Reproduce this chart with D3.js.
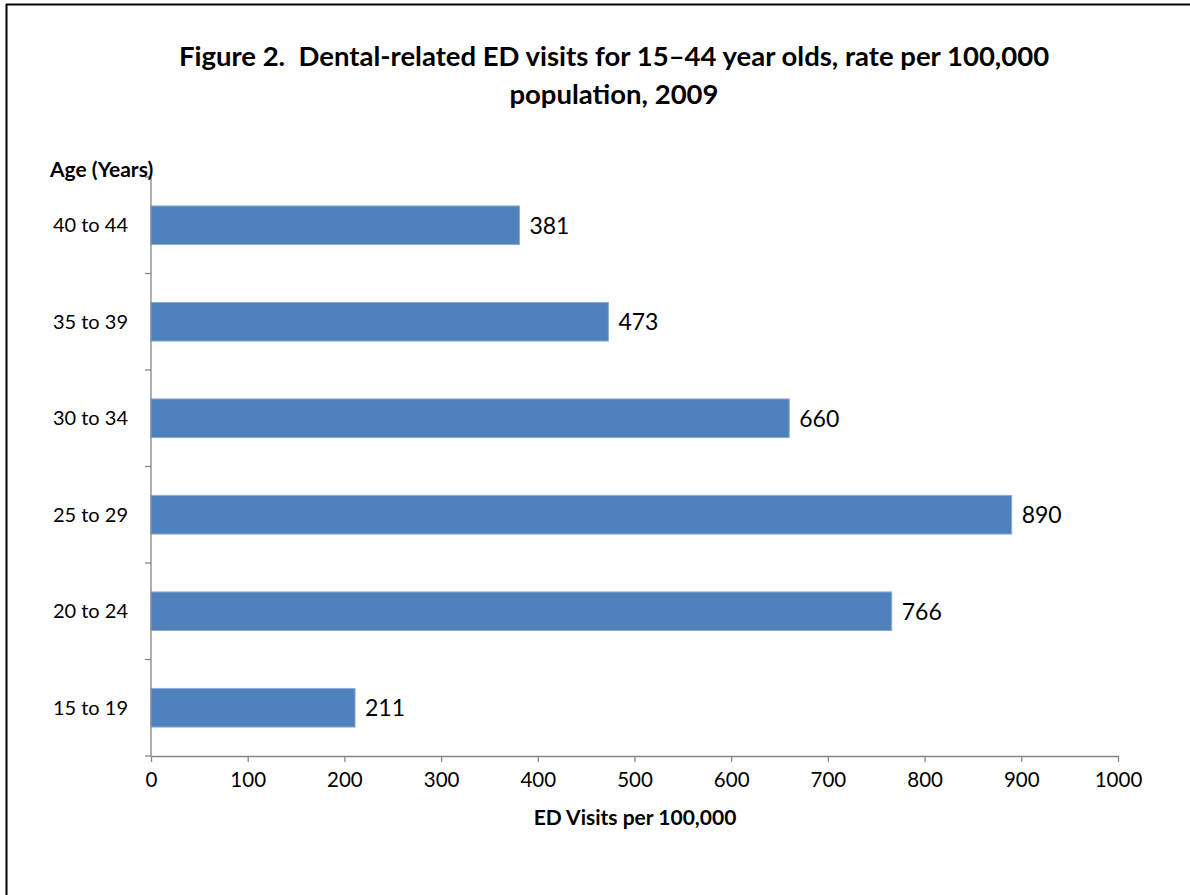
<!DOCTYPE html>
<html>
<head>
<meta charset="utf-8">
<script src="https://cdn.jsdelivr.net/npm/d3@7"></script>
<style>
  html, body { margin: 0; padding: 0; background: #fff; }
  svg { display: block; }
  text { font-family: Lato, "Open Sans", sans-serif; fill: #000; white-space: pre; }
</style>
</head>
<body>
<svg id="chart" width="1190" height="895"></svg>
<script>
const categories = ["40 to 44", "35 to 39", "30 to 34", "25 to 29", "20 to 24", "15 to 19"];
const values = [381, 473, 660, 890, 766, 211];
const xTicks = [0, 100, 200, 300, 400, 500, 600, 700, 800, 900, 1000];
const titleLines = ["Figure 2.  Dental-related ED visits for 15\u201344 year olds, rate per 100,000", "population, 2009"];
const yAxisTitle = "Age (Years)";
const xAxisTitle = "ED Visits per 100,000";

(function () {
const svg = d3.select("#chart");
const data = categories.map((c, i) => ({ cat: c, val: values[i] }));

svg.append("line").attr("x1", 6).attr("y1", 4.5).attr("x2", 1190).attr("y2", 4.5)
  .attr("stroke", "#000").attr("stroke-width", 2);
svg.append("line").attr("x1", 6.5).attr("y1", 4).attr("x2", 6.5).attr("y2", 895)
  .attr("stroke", "#000").attr("stroke-width", 2);

const pLeft = 151, pRight = 1118, pTop = 177, pBottom = 756;
const x = d3.scaleLinear().domain([0, 1000]).range([pLeft, pRight]);
const y = d3.scaleBand().domain(categories).range([pTop, pBottom]).paddingInner(0.6).paddingOuter(0.3);

svg.append("text").attr("x", 614).attr("y", 66).attr("text-anchor", "middle")
  .attr("font-weight", "bold").attr("font-size", 27.5).text(titleLines[0]);
svg.append("text").attr("x", 614).attr("y", 104).attr("text-anchor", "middle")
  .attr("font-weight", "bold").attr("font-size", 27.5).text(titleLines[1]);

svg.append("g").selectAll("rect").data(data).enter().append("rect")
  .attr("x", x(0))
  .attr("y", d => y(d.cat))
  .attr("width", d => x(d.val) - x(0))
  .attr("height", y.bandwidth())
  .attr("fill", "#4F81BD")
  .attr("stroke", "#8AAAD6").attr("stroke-width", 1);

svg.append("g").selectAll("text").data(data).enter().append("text")
  .attr("x", d => x(d.val) + 10)
  .attr("y", d => y(d.cat) + y.bandwidth() / 2)
  .attr("dy", "0.36em")
  .attr("font-size", 23)
  .text(d => d.val);

const xAxis = svg.append("g").attr("transform", `translate(0,${pBottom})`)
  .call(d3.axisBottom(x).tickValues(xTicks).tickSize(6).tickSizeOuter(0).tickPadding(10).tickFormat(d3.format("d")));
xAxis.select(".domain").attr("stroke", "#868686").attr("stroke-width", 1.3);
xAxis.selectAll(".tick line").attr("stroke", "#868686").attr("stroke-width", 1.3);
xAxis.selectAll("text").attr("font-size", 20.5).attr("fill", "#000")
  .style("font-family", "Lato, sans-serif");

const yAxisG = svg.append("g");
yAxisG.append("line").attr("x1", pLeft).attr("x2", pLeft).attr("y1", pTop).attr("y2", pBottom)
  .attr("stroke", "#868686").attr("stroke-width", 1.3);
const bandStep = (pBottom - pTop) / categories.length;
yAxisG.selectAll("line.tk").data(d3.range(categories.length + 1)).enter().append("line")
  .attr("class", "tk")
  .attr("x1", pLeft - 6).attr("x2", pLeft)
  .attr("y1", i => pTop + i * bandStep)
  .attr("y2", i => pTop + i * bandStep)
  .attr("stroke", "#868686").attr("stroke-width", 1.3);

svg.append("g").selectAll("text").data(data).enter().append("text")
  .attr("x", 128).attr("text-anchor", "end")
  .attr("y", d => y(d.cat) + y.bandwidth() / 2)
  .attr("dy", "0.36em")
  .attr("font-size", 20)
  .text(d => d.cat);

svg.append("text").attr("x", 50).attr("y", 177).attr("font-weight", "bold")
  .attr("font-size", 21).text(yAxisTitle);
svg.append("text").attr("x", 635).attr("y", 825).attr("text-anchor", "middle")
  .attr("font-weight", "bold").attr("font-size", 21).text(xAxisTitle);
})();
</script>
</body>
</html>
